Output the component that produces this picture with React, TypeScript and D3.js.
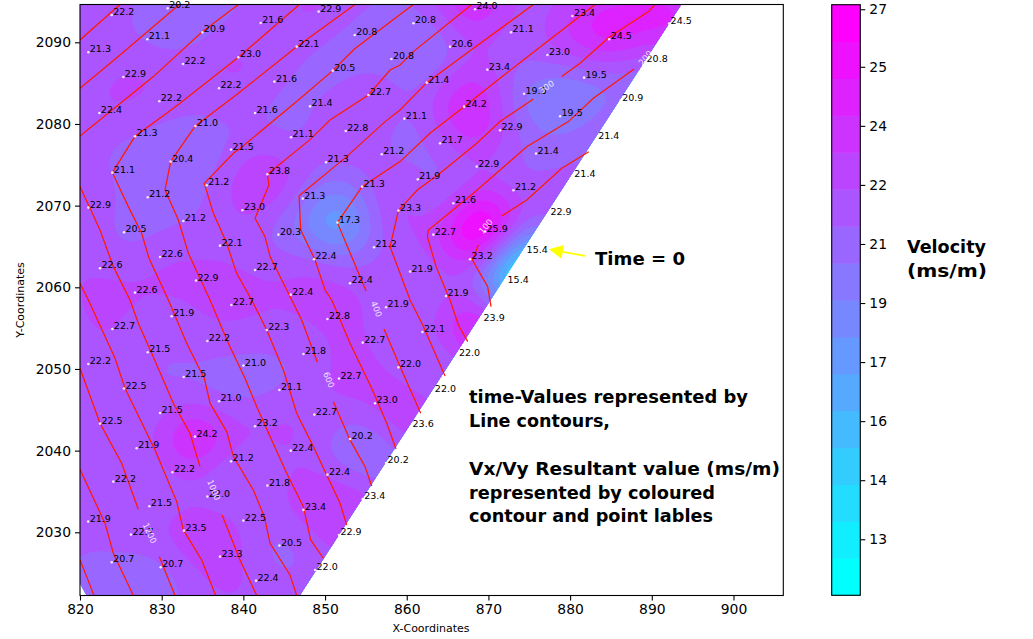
import React, { useEffect, useRef } from 'react'
import * as d3 from 'd3'

// survey points
const pointX = [823.88, 830.73, 828.24, 834.98, 842.12, 849.22, 821.02, 839.39, 832.61, 825.31, 846.53, 853.63, 860.82, 858.12, 850.94, 843.8, 837.02, 829.71, 822.37, 855.31, 848.16, 841.43, 834.12, 826.73, 859.71, 852.53, 845.84, 838.49, 831.1, 856.94, 850.12, 842.94, 823.96, 861.35, 854.53, 835.51, 828.29, 847.27, 821.02, 858.98, 839.88, 832.65, 851.51, 825.39, 844.29, 837.14, 856.0, 829.8, 848.65, 822.45, 841.43, 860.41, 834.2, 853.06, 826.73, 845.8,
  838.53, 831.22, 823.96, 850.29, 842.86, 857.47, 861.92, 854.61, 835.59, 828.29, 847.35, 821.02, 840.0, 858.98, 832.69, 851.71, 825.39, 844.41, 837.02, 856.12, 829.8, 848.69, 822.45, 841.43, 860.53, 834.08, 853.06, 826.94, 845.8, 838.49, 857.47, 831.31, 850.29, 824.08, 842.94, 835.59, 854.61, 828.49, 847.35, 821.0, 840.0, 832.73, 851.71, 826.24, 844.41, 823.88, 829.88, 837.14, 848.78, 841.55,
  868.36, 880.28, 892.12, 872.77, 865.3, 884.78, 889.18, 877.22, 869.87, 881.71, 862.45, 874.36, 886.2, 867.02, 878.77, 871.42, 883.26, 864.08, 875.83, 868.57, 880.33, 873.06, 865.71, 877.42, 869.59, 863.26, 874.49, 867.75, 872.16, 864.81, 869.22, 866.2, 863.26]
const pointY = [2093.35, 2094.16, 2090.37, 2091.22, 2092.37, 2093.76, 2088.78, 2088.16, 2087.35, 2085.76, 2089.47, 2090.9, 2092.33, 2087.96, 2086.53, 2085.18, 2084.37, 2082.78, 2081.35, 2083.55, 2082.16, 2081.35, 2079.76, 2078.49, 2080.65, 2079.14, 2078.37, 2076.86, 2075.39, 2076.29, 2075.31, 2073.84, 2074.04, 2073.22, 2072.33, 2072.49, 2071.02, 2070.86, 2069.76, 2069.39, 2069.43, 2068.12, 2067.92, 2066.73, 2066.45, 2065.1, 2064.9, 2063.71, 2063.43, 2062.33, 2062.12, 2061.92, 2060.82, 2060.49, 2059.35, 2059.1,
  2057.84, 2056.45, 2054.9, 2056.12, 2054.78, 2057.55, 2054.53, 2053.23, 2053.43, 2052.04, 2051.84, 2050.61, 2050.41, 2050.2, 2049.02, 2048.82, 2047.6, 2047.43, 2046.04, 2045.8, 2044.61, 2044.41, 2043.31, 2042.98, 2042.94, 2041.72, 2041.43, 2040.29, 2040.0, 2038.69, 2038.49, 2037.35, 2037.06, 2036.2, 2035.72, 2034.37, 2034.08, 2033.18, 2032.74, 2031.31, 2031.43, 2030.2, 2029.67, 2029.72, 2028.37, 2026.33, 2025.72, 2027.02, 2025.39, 2024.08,
  2094.04, 2093.22, 2092.29, 2091.22, 2089.47, 2090.37, 2087.55, 2088.45, 2086.65, 2085.67, 2085.06, 2083.71, 2082.86, 2082.12, 2080.94, 2079.22, 2078.16, 2077.63, 2076.37, 2074.78, 2073.47, 2071.88, 2070.29, 2068.86, 2066.82, 2066.45, 2064.24, 2063.43, 2060.49, 2058.94, 2055.92, 2051.55, 2047.19]
const pointV = [22.2, 20.2, 21.1, 20.9, 21.6, 22.9, 21.3, 23.0, 22.2, 22.9, 22.1, 20.8, 20.8, 20.8, 20.5, 21.6, 22.2, 22.2, 22.4, 22.7, 21.4, 21.6, 21.0, 21.3, 21.1, 22.8, 21.1, 21.5, 20.4, 21.2, 21.3, 23.8, 21.1, 21.9, 21.3, 21.2, 21.2, 21.3, 22.9, 23.3, 23.0, 21.2, 17.3, 20.5, 20.3, 22.1, 21.2, 22.6, 22.4, 22.6, 22.7, 21.9, 22.9, 22.4, 22.6, 22.4,
  22.7, 21.9, 22.7, 22.8, 22.3, 21.9, 22.1, 22.7, 22.2, 21.5, 21.8, 22.2, 21.0, 22.0, 21.5, 22.7, 22.5, 21.1, 21.0, 23.0, 21.5, 22.7, 22.5, 23.2, 23.6, 24.2, 20.2, 21.9, 22.4, 21.2, 20.2, 22.2, 22.4, 22.2, 21.8, 22.0, 23.4, 21.5, 23.4, 21.9, 22.5, 23.5, 22.9, 22.7, 20.5, 20.7, 20.7, 23.3, 22.0, 22.4,
  24.0, 23.4, 24.5, 21.1, 20.6, 24.5, 20.8, 23.0, 23.4, 19.5, 21.4, 19.5, 20.9, 24.2, 19.5, 22.9, 21.4, 21.7, 21.4, 22.9, 21.4, 21.2, 21.6, 22.9, 25.9, 22.7, 15.4, 23.2, 15.4, 21.9, 23.9, 22.0, 22.0]

// time contours, one array per level, split where the inline label breaks the line
const time100 = [
  [[882.28, 2076.61], [878.98, 2074.57], [874.69, 2070.69], [871.63, 2068.73]],
  [[868.77, 2065.18], [868.04, 2063.35], [869.91, 2060.08], [870.32, 2057.63]],
]
const time200 = [
  [[887.83, 2086.73], [882.85, 2083.14], [879.79, 2080.29], [874.69, 2077.22], [868.16, 2071.51], [862.65, 2067.02], [862.53, 2066.2], [863.59, 2062.53], [865.3, 2058.45], [866.32, 2055.39], [867.47, 2053.35]],
]
const time300 = [
  [[890.4, 2094.63], [889.59, 2093.76], [884.77, 2090.61], [881.22, 2087.43], [878.98, 2085.8]],
  [[875.51, 2083.06], [871.42, 2080.29], [868.57, 2077.63], [864.08, 2073.96], [861.3, 2071.92], [858.98, 2069.39], [857.96, 2064.98], [859.18, 2061.71], [860.41, 2058.45], [861.96, 2055.39], [864.69, 2049.14]],
]
const time400 = [
  [[883.06, 2094.63], [874.28, 2087.84], [871.42, 2085.59], [867.02, 2082.12], [862.85, 2078.86], [859.18, 2075.39], [854.53, 2072.33], [851.51, 2067.92], [855.02, 2059.55]],
  [[857.22, 2054.9], [859.18, 2050.29], [860.82, 2046.61], [861.71, 2044.57]],
]
const time500 = [
  [[875.51, 2094.63], [867.34, 2088.65], [862.45, 2085.06], [859.18, 2081.71], [857.35, 2080.29], [852.65, 2076], [846.82, 2071.22], [847.02, 2067.02], [848.78, 2063.35], [850, 2059.67], [850.82, 2058.45], [853.06, 2053.14], [855.71, 2047.63], [857.55, 2043.35], [858.69, 2040.21]],
]
const time600 = [
  [[867.96, 2094.63], [860.81, 2088.86], [859.18, 2087.22], [857.96, 2086.61], [855.31, 2083.55], [850.61, 2080.49], [848.16, 2078.08], [842.94, 2073.84], [843.14, 2072.53], [841.43, 2068.45], [842.65, 2066.2], [843.27, 2063.76], [845.92, 2058.45], [847.14, 2056], [849.06, 2050.82]],
  [[851.02, 2046], [853.06, 2041.31], [854.9, 2038.04], [855.71, 2035.67]],
]
const time700 = [
  [[860.81, 2094.63], [853.63, 2089.2], [850.94, 2086.53], [846.7, 2082.9], [839.6, 2077.0], [838.78, 2076.41], [835.22, 2072.73], [836.33, 2069.06], [837.96, 2065.39], [839.18, 2061.71], [841.02, 2058.45], [842.86, 2054.78], [844.9, 2049.88], [846.53, 2044.57], [848.37, 2040.9], [850.2, 2037.02], [851.84, 2033.55], [852.65, 2030.9]],
]
const time800 = [
  [[853.67, 2094.63], [846.53, 2089.47], [839.39, 2083.76], [834.12, 2079.76], [831.1, 2075.39], [830.41, 2071.92], [832.04, 2068.24], [833.27, 2064.16], [835.92, 2058.45], [838.16, 2053.14], [840.2, 2048.86], [841.63, 2045.39], [843.27, 2041.72], [845.31, 2037.22], [847.35, 2033.14], [848.24, 2029.06], [849.8, 2026.82]],
]
const time900 = [
  [[846.86, 2094.63], [839.39, 2088.16], [832.24, 2082.53], [830.61, 2081.31], [826.73, 2078.49], [823.96, 2074.04], [825.92, 2069.88], [827.55, 2066.61], [828.45, 2063.55], [830.82, 2058.45], [833.06, 2053.14], [834.69, 2049.88], [835.22, 2048.86], [835.92, 2045.8], [837.96, 2042.33], [838.78, 2039.27], [841.22, 2035.18], [842.57, 2031.92], [843.27, 2028.65], [845.71, 2024.78], [846.53, 2022.26]],
]
const time1000 = [
  [[839.39, 2094.63], [834.9, 2091.22], [828.98, 2085.8], [820, 2078.53]],
  [[820, 2072.33], [822.45, 2067.02], [824.08, 2062.53], [826.12, 2058.45], [827.14, 2055.59], [828.78, 2051.92], [831.43, 2045.8], [833.47, 2042.12], [834.69, 2038.04]],
  [[837.39, 2032.12], [838.78, 2028.65], [839.59, 2026.61], [841.63, 2022.26]],
]
const time1100 = [
  [[832.16, 2094.63], [824.9, 2088.45], [820, 2084.37]],
  [[820, 2060.49], [821.02, 2058.45], [824.29, 2051.31], [825.51, 2047.63], [829.18, 2040.08], [831.84, 2033.76], [832.65, 2030.29], [834.9, 2026.61], [836.61, 2022.26]],
]
const time1200 = [
  [[824.9, 2094.63], [820, 2090.29]],
  [[820, 2050.08], [822.45, 2043.35], [825.1, 2038.45], [827.14, 2032.82]],
  [[829.71, 2027.02], [831.63, 2022.26]],
]
const time1300 = [[[820, 2037.72], [823.06, 2031.1], [824.08, 2027.43], [826.53, 2022.26]]]
const time1400 = [[[820, 2026.61], [820.82, 2024.57], [821.71, 2022.26]]]
const timeLines = [time100, time200, time300, time400, time500, time600, time700, time800, time900, time1000, time1100, time1200, time1300, time1400]

// inline contour labels: text, x, y, rotation
const timeLabelText = ['100', '200', '300', '400', '600', '1000', '1200']
const timeLabelX = [869.71, 889.26, 877.14, 856.24, 850.41, 836.33, 828.49]
const timeLabelY = [2067.43, 2088.04, 2084.49, 2057.31, 2048.65, 2035.18, 2029.88]
const timeLabelAngle = [-50, -50, -35, 67, 67, 68, 65]

// outline of the surveyed area inside the axes
const areaEdge: [number, number][] = [[820, 2094.63], [893.6, 2094.63], [846.9, 2022.26], [820.82, 2022.26], [820, 2023.76]]

const xTicks = [820, 830, 840, 850, 860, 870, 880, 890, 900]
const yTicks = [2030, 2040, 2050, 2060, 2070, 2080, 2090]
const barTicks = [13.2, 14.76, 16.32, 17.88, 19.44, 21.0, 22.56, 24.12, 25.68, 27.2]
const barLabels = ['13', '14', '16', '17', '19', '21', '22', '24', '25', '27']

const bandCount = 16
const bandMin = 11.72
const bandStep = 0.975
const levels = d3.range(bandCount).map(i => bandMin + i * bandStep)
const bandColor = (i: number) => d3.interpolateRgb('#00ffff', '#ff00ff')(i / (bandCount - 1))

// radial basis fit through the points so the coloured field can be contoured
function fitField() {
  const sigma = 4.2
  const n = pointV.length
  const mean = d3.mean(pointV) as number
  const kernel = (dx: number, dy: number) => Math.exp(-(dx * dx + dy * dy) / (2 * sigma * sigma))
  const A = pointV.map((v, i) => {
    // high points are held tight so their peaks survive, low outliers a bit less
    const lambda = v - mean > 2 ? 0.04 : mean - v > 3 ? 0.2 : 0.5
    const row = pointV.map((_, j) => kernel(pointX[i] - pointX[j], pointY[i] - pointY[j]) + (i === j ? lambda : 0))
    row.push(v - mean)
    return row
  })
  for (let c = 0; c < n; c++) {
    let p = c
    for (let r = c + 1; r < n; r++) if (Math.abs(A[r][c]) > Math.abs(A[p][c])) p = r
    const tmp = A[c]; A[c] = A[p]; A[p] = tmp
    for (let r = c + 1; r < n; r++) {
      const f = A[r][c] / A[c][c]
      if (f === 0) continue
      for (let k = c; k <= n; k++) A[r][k] -= f * A[c][k]
    }
  }
  const w = new Array(n).fill(0)
  for (let r = n - 1; r >= 0; r--) {
    let s = A[r][n]
    for (let k = r + 1; k < n; k++) s -= A[r][k] * w[k]
    w[r] = s / A[r][r]
  }
  return (x: number, y: number) => {
    let s = mean
    for (let i = 0; i < n; i++) s += w[i] * kernel(x - pointX[i], y - pointY[i])
    return s
  }
}

export default function App() {
  const svgRef = useRef<SVGSVGElement>(null)

  useEffect(() => {
    const svg = d3.select(svgRef.current)
    svg.selectAll('*').remove()
    const font = '"DejaVu Sans", sans-serif'

    const x = d3.scaleLinear().domain([820, 906.1]).range([80, 783.3])
    const y = d3.scaleLinear().domain([2022.26, 2094.63]).range([595.5, 4.5])
    const barY = d3.scaleLinear().domain([bandMin, bandMin + bandCount * bandStep]).range([595.3, 4.7])

    svg.append('clipPath').attr('id', 'area')
      .append('path')
      .attr('d', d3.line()(areaEdge.map(d => [x(d[0]), y(d[1])] as [number, number])) + 'Z')
    svg.append('clipPath').attr('id', 'axesBox')
      .append('rect').attr('x', 80).attr('y', 4.5).attr('width', 703.3).attr('height', 591)

    // coloured field
    const field = fitField()
    const step = 0.4
    const gx0 = 818
    const gy0 = 2020
    const nx = 200
    const ny = 200
    const values = new Float64Array(nx * ny)
    for (let j = 0; j < ny; j++) {
      for (let i = 0; i < nx; i++) values[j * nx + i] = field(gx0 + i * step, gy0 + j * step)
    }
    const contours = d3.contours().size([nx, ny]).smooth(true).thresholds(levels)(values as any)
    const toPx = d3.geoTransform({
      point(px, py) {
        this.stream.point(x(gx0 + (px - 0.5) * step), y(gy0 + (py - 0.5) * step))
      },
    })
    const path = d3.geoPath(toPx)
    const fieldG = svg.append('g').attr('clip-path', 'url(#area)')
    fieldG.append('rect').attr('x', 80).attr('y', 4.5).attr('width', 703.3).attr('height', 591).attr('fill', bandColor(0))
    contours.forEach((c, i) => {
      fieldG.append('path').attr('d', path(c as any)).attr('fill', bandColor(i))
    })

    // time contours
    const line = d3.line<number[]>().x(d => x(d[0])).y(d => y(d[1]))
    const lineG = svg.append('g').attr('clip-path', 'url(#axesBox)')
    timeLines.forEach(level => {
      level.forEach(seg => {
        lineG.append('path').attr('d', line(seg)).attr('fill', 'none').attr('stroke', '#ff1a00').attr('stroke-width', 1.25)
      })
    })

    // points and their values
    pointV.forEach((v, i) => {
      svg.append('circle').attr('cx', x(pointX[i])).attr('cy', y(pointY[i])).attr('r', 1.3).attr('fill', '#fff').attr('fill-opacity', 0.85)
      svg.append('text').attr('x', x(pointX[i]) + 1.5).attr('y', y(pointY[i]))
        .attr('font-family', font).attr('font-size', 9.5).attr('fill', '#000').text(v.toFixed(1))
    })

    timeLabelText.forEach((t, i) => {
      svg.append('text')
        .attr('transform', `translate(${x(timeLabelX[i])},${y(timeLabelY[i])}) rotate(${timeLabelAngle[i]})`)
        .attr('text-anchor', 'middle').attr('dominant-baseline', 'middle')
        .attr('font-family', font).attr('font-size', 8.5).attr('fill', '#fff').attr('fill-opacity', 0.85).text(t)
    })

    // frame and axes
    svg.append('rect').attr('x', 80).attr('y', 4.5).attr('width', 703.3).attr('height', 591)
      .attr('fill', 'none').attr('stroke', '#000').attr('stroke-width', 1.1)

    const styleAxis = (g: any) => {
      g.selectAll('.domain').remove()
      g.selectAll('line').attr('stroke', '#000').attr('stroke-width', 1.1)
      g.selectAll('text').attr('font-family', font).attr('font-size', 13.9).attr('fill', '#000')
    }
    svg.append('g').attr('transform', 'translate(0,595.5)')
      .call(d3.axisBottom(x).tickValues(xTicks).tickSize(5).tickPadding(4).tickFormat(d3.format('d')) as any)
      .call(styleAxis)
    svg.append('g').attr('transform', 'translate(80,0)')
      .call(d3.axisLeft(y).tickValues(yTicks).tickSize(5).tickPadding(4).tickFormat(d3.format('d')) as any)
      .call(styleAxis)

    svg.append('text').attr('x', 431).attr('y', 632).attr('text-anchor', 'middle')
      .attr('font-family', font).attr('font-size', 11).text('X-Coordinates')
    svg.append('text').attr('transform', 'translate(24,300) rotate(-90)').attr('text-anchor', 'middle')
      .attr('font-family', font).attr('font-size', 11).text('Y-Coordinates')

    // colour bar
    levels.forEach((lv, i) => {
      svg.append('rect').attr('x', 831.7).attr('width', 28.6)
        .attr('y', barY(lv + bandStep)).attr('height', barY(lv) - barY(lv + bandStep) + 0.5)
        .attr('fill', bandColor(i))
    })
    svg.append('rect').attr('x', 831.7).attr('y', 4.7).attr('width', 28.6).attr('height', 590.6)
      .attr('fill', 'none').attr('stroke', '#000').attr('stroke-width', 1.1)
    svg.append('g').attr('transform', 'translate(860.3,0)')
      .call(d3.axisRight(barY).tickValues(barTicks).tickSize(5).tickPadding(4).tickFormat((_, i) => barLabels[i]) as any)
      .call(styleAxis)

    // annotations, stretched to the widths seen in the reference
    const bold = (tx: number, ty: number, t: string, len: number) =>
      svg.append('text').attr('x', tx).attr('y', ty).attr('font-family', font)
        .attr('font-weight', 700).attr('font-size', 18).attr('fill', '#000')
        .attr('textLength', len).attr('lengthAdjust', 'spacingAndGlyphs').text(t)
    bold(907, 253, 'Velocity', 79)
    bold(907, 277, '(ms/m)', 80)
    bold(595, 265, 'Time = 0', 90)
    bold(469, 402.7, 'time-Values represented by', 279)
    bold(469, 426.7, 'Line contours,', 141)
    bold(469, 475, 'Vx/Vy Resultant value (ms/m)', 311)
    bold(469, 499, 'represented by coloured', 246)
    bold(469, 522, 'contour and point lables', 244)

    // yellow arrow pointing at the start point
    const tipX = x(877.42), tipY = y(2064.65), tailX = x(881.83), tailY = y(2063.84)
    const ang = Math.atan2(tailY - tipY, tailX - tipX)
    const hx = tipX + 14 * Math.cos(ang), hy = tipY + 14 * Math.sin(ang)
    svg.append('line').attr('x1', hx).attr('y1', hy).attr('x2', tailX).attr('y2', tailY)
      .attr('stroke', '#ffff00').attr('stroke-width', 1.8)
    svg.append('polygon').attr('fill', '#ffff00').attr('points', [
      [tipX, tipY],
      [hx - 7 * Math.sin(ang), hy + 7 * Math.cos(ang)],
      [hx + 7 * Math.sin(ang), hy - 7 * Math.cos(ang)],
    ].join(' '))
  }, [])

  return (
    <div style={{ position: 'absolute', left: 0, top: 0 }}>
      <svg ref={svgRef} width={1033} height={639} style={{ display: 'block' }} />
    </div>
  )
}
